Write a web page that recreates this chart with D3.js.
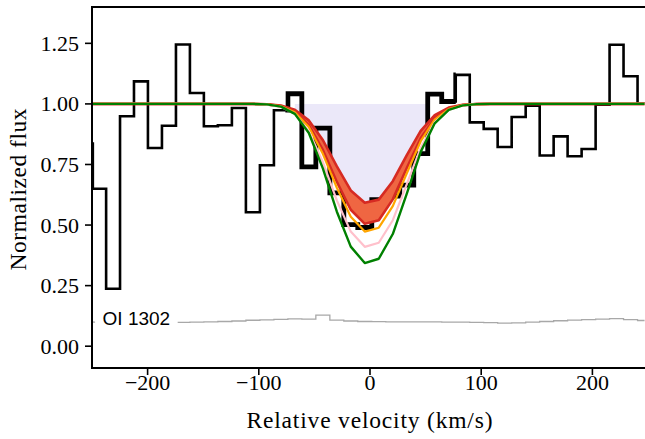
<!DOCTYPE html>
<html><head><meta charset="utf-8">
<script src="https://cdn.jsdelivr.net/npm/d3@7"></script>
</head><body style="margin:0;background:#fff">
<svg id="c" width="645" height="439"></svg>
<script>
// ---- data ----
const velocity = [-255.0, -243.5, -231.1, -218.5, -206.0, -193.4, -180.8, -168.2, -155.7, -143.1,
  -130.5, -117.9, -105.3, -92.7, -80.1, -67.6, -55.0, -42.4, -29.8, -17.3,
  -4.7, 7.9, 20.5, 33.1, 45.6, 58.2, 70.8, 83.4, 96.0, 108.5,
  121.1, 133.7, 146.3, 158.9, 171.4, 184.0, 196.6, 209.2, 221.7, 234.3, 246.9];
const flux = [0.836, 0.650, 0.237, 0.949, 1.093, 0.818, 0.910, 1.245, 1.045, 0.908,
  0.912, 0.983, 0.553, 0.747, 0.974, 1.042, 0.740, 0.900, 0.633, 0.502,
  0.490, 0.605, 0.620, 0.665, 0.795, 1.040, 1.010, 1.120, 0.924, 0.897,
  0.822, 0.946, 0.993, 0.787, 0.866, 0.784, 0.814, 0.997, 1.244, 1.114, 1.001];
const fluxError = [0.100, 0.099, 0.098, 0.097, 0.097, 0.097, 0.097, 0.098, 0.099, 0.100,
  0.102, 0.104, 0.107, 0.109, 0.111, 0.113, 0.112, 0.128, 0.108, 0.104,
  0.102, 0.101, 0.100, 0.100, 0.100, 0.100, 0.099, 0.099, 0.098, 0.097,
  0.095, 0.096, 0.099, 0.102, 0.105, 0.108, 0.110, 0.112, 0.114, 0.110, 0.106];
const modelGreen = [1,1,1,1,1,1,1,1,1,1, 1,1,1.000,0.998,0.989,0.959,0.880,0.734,0.555,0.411,
  0.343,0.361,0.463,0.630,0.802,0.920,0.975,0.994,0.999,1, 1,1,1,1,1,1,1,1,1,1,1];
const modelPink = [1,1,1,1,1,1,1,1,1,1, 1,1,1.000,0.997,0.988,0.959,0.887,0.760,0.602,0.473,
  0.410,0.427,0.520,0.669,0.819,0.924,0.975,0.994,0.999,1, 1,1,1,1,1,1,1,1,1,1,1];
const modelOrange = [1,1,1,1,1,1,1,1,1,1, 1,1,1.000,0.998,0.990,0.966,0.905,0.794,0.654,0.534,
  0.473,0.489,0.578,0.714,0.846,0.935,0.979,0.995,0.999,1, 1,1,1,1,1,1,1,1,1,1,1];
const modelRedLow = [1,1,1,1,1,1,1,1,1,1, 1,1,1.000,0.998,0.991,0.969,0.912,0.810,0.678,0.563,
  0.505,0.520,0.606,0.735,0.858,0.941,0.981,0.995,0.999,1, 1,1,1,1,1,1,1,1,1,1,1];
const modelRedHigh = [1,1,1,1,1,1,1,1,1,1, 1,1,1.000,0.998,0.993,0.976,0.932,0.851,0.742,0.643,
  0.592,0.605,0.681,0.789,0.889,0.954,0.985,0.996,0.999,1, 1,1,1,1,1,1,1,1,1,1,1];
const fitRange = [-67.6, 50.8];      // shaded absorption window (km/s)
const thickRange = [14, 27];         // bins of the fitted region (indices)
const xTicks = [-200, -100, 0, 100, 200];
const yTicks = [0, 0.25, 0.5, 0.75, 1.0, 1.25];
const lineLabel = "OI 1302";
const xLabel = "Relative velocity (km/s)";
const yLabel = "Normalized flux";

// ---- layout ----
const svg = d3.select('#c');
const L = 92, R = 648, T = 7, B = 368;
const x = d3.scaleLinear().domain([-250, 250]).range([L, R]);
const y = d3.scaleLinear().domain([-0.09, 1.4]).range([B, T]);
const idx = d3.range(velocity.length);

const defs = svg.append('defs');
defs.append('clipPath').attr('id', 'plot').append('rect')
  .attr('x', L).attr('y', T).attr('width', R - L).attr('height', B - T);
defs.append('clipPath').attr('id', 'fit').append('rect')
  .attr('x', x(fitRange[0])).attr('y', T).attr('width', x(fitRange[1]) - x(fitRange[0])).attr('height', B - T);
const midL = (velocity[thickRange[0]] + velocity[thickRange[0] + 1]) / 2;
const midR = (velocity[thickRange[1] - 1] + velocity[thickRange[1]]) / 2;
defs.append('clipPath').attr('id', 'thick').append('rect')
  .attr('x', x(midL) - 2.5).attr('y', T).attr('width', x(midR) - x(midL) + 2.5).attr('height', B - T);

const g = svg.append('g').attr('clip-path', 'url(#plot)');

g.append('path').attr('clip-path', 'url(#fit)')
  .attr('d', d3.area().x(i => x(velocity[i])).y0(y(1)).y1(i => y(modelRedHigh[i]))(idx))
  .attr('fill', '#ebe8f9');

const stepLine = arr => d3.line().curve(d3.curveStep).x(i => x(velocity[i])).y(i => y(arr[i]));
g.append('path').attr('d', stepLine(fluxError)(idx))
  .attr('fill', 'none').attr('stroke', '#a8a8a8').attr('stroke-width', 1.3);

g.append('path').attr('d', stepLine(flux)(idx))
  .attr('fill', 'none').attr('stroke', '#000').attr('stroke-width', 2.6).attr('stroke-linejoin', 'miter');
g.append('g').attr('clip-path', 'url(#thick)').append('path')
  .attr('d', stepLine(flux)(d3.range(thickRange[0], thickRange[1] + 1)))
  .attr('fill', 'none').attr('stroke', '#000').attr('stroke-width', 4.8).attr('stroke-linejoin', 'miter');

const ln = arr => d3.line().x(i => x(velocity[i])).y(i => y(arr[i]))(idx);
g.append('path')
  .attr('d', d3.area().x(i => x(velocity[i])).y0(i => y(modelRedLow[i])).y1(i => y(modelRedHigh[i]))(idx))
  .attr('fill', '#ef6642');
[[modelRedLow, '#d62a22', 2.6], [modelRedHigh, '#d62a22', 2.6], [modelOrange, '#ffa500', 2.2],
 [modelPink, '#ffc0cb', 2.2], [modelGreen, '#008000', 2.4]].forEach(([arr, c, w]) => {
  g.append('path').attr('d', ln(arr)).attr('fill', 'none').attr('stroke', c).attr('stroke-width', w)
    .attr('stroke-linejoin', 'round');
});

// text helper: font set inline, then measured to force font resolution
function txt(parent, family, size) {
  const t = parent.append('text').style('font-family', `"${family}"`).attr('font-size', size);
  return t;
}

const lab = txt(svg, 'Liberation Sans', 19).attr('x', x(-240.5)).attr('y', y(0.088)).attr('fill', '#000').text(lineLabel);
lab.node().getComputedTextLength();
const bb = lab.node().getBBox();
svg.insert('rect', 'text').attr('x', bb.x - 7.5).attr('y', bb.y - 4).attr('width', bb.width + 15).attr('height', bb.height + 8)
  .attr('fill', '#fff');

const ax = svg.append('g').attr('stroke', '#000').attr('stroke-width', 2).attr('fill', 'none');
ax.append('line').attr('x1', L).attr('x2', L).attr('y1', T).attr('y2', B);
ax.append('line').attr('x1', L - 1).attr('x2', R).attr('y1', B).attr('y2', B);
ax.append('line').attr('x1', L - 1).attr('x2', R).attr('y1', T).attr('y2', T);
ax.append('line').attr('x1', R).attr('x2', R).attr('y1', T).attr('y2', B);

xTicks.forEach(t => {
  svg.append('line').attr('x1', x(t)).attr('x2', x(t)).attr('y1', B).attr('y2', B + 7)
    .attr('stroke', '#000').attr('stroke-width', 1.6);
  const e = txt(svg, 'Liberation Serif', 22).attr('x', x(t)).attr('y', B + 22).attr('text-anchor', 'middle')
    .text(d3.format('d')(t).replace('-', '\u2212'));
  e.node().getComputedTextLength();
});
yTicks.forEach(t => {
  svg.append('line').attr('x1', L - 7).attr('x2', L).attr('y1', y(t)).attr('y2', y(t))
    .attr('stroke', '#000').attr('stroke-width', 1.6);
  const e = txt(svg, 'Liberation Serif', 22).attr('x', L - 13).attr('y', y(t) + 7.5).attr('text-anchor', 'end')
    .text(d3.format('.2f')(t));
  e.node().getComputedTextLength();
});
const xl = txt(svg, 'Liberation Serif', 23.5).attr('x', (x(-250) + x(250)) / 2 - 0.5).attr('y', 428).attr('text-anchor', 'middle')
  .attr('textLength', 246).attr('lengthAdjust', 'spacing').text(xLabel);
xl.node().getComputedTextLength();
const yl = txt(svg, 'Liberation Serif', 23.5).attr('transform', `translate(26,${(T + B) / 2 + 2}) rotate(-90)`).attr('text-anchor', 'middle')
  .attr('textLength', 162).attr('lengthAdjust', 'spacing').text(yLabel);
yl.node().getComputedTextLength();
</script>
</body></html>
